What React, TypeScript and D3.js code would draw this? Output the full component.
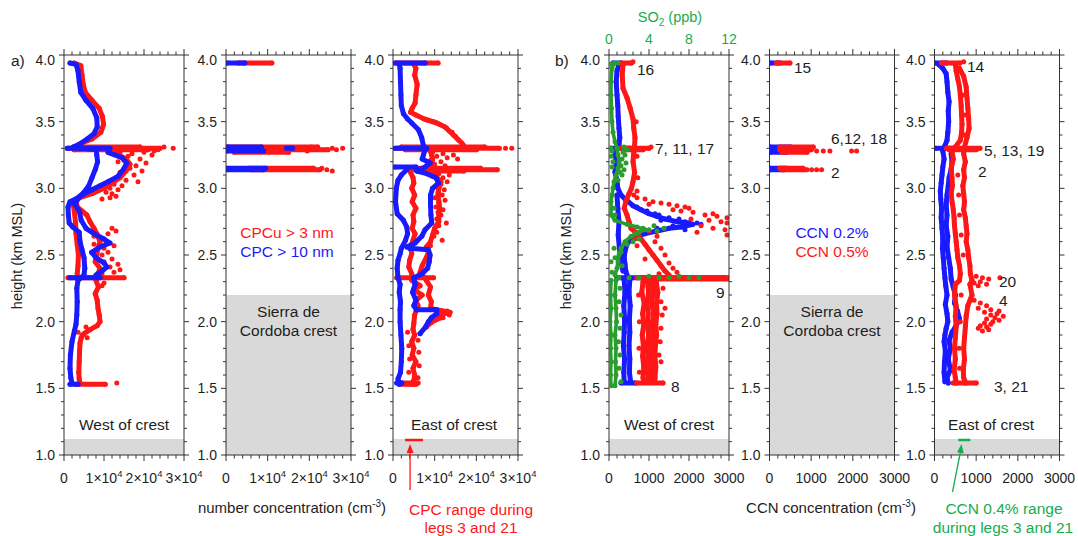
import React from 'react';
import * as d3 from 'd3';

type Pt = [number, number]; // [height km MSL, value]

const FONT = 'Liberation Sans, Arial, Helvetica, sans-serif';
const RED = '#ff1717';
const BLUE = '#1a1aff';
const GREEN_DOT = '#2a9d2f';
const GREEN_TEXT = '#16ad4d';
const GREY = '#d9d9d9';
const INK = '#1e1e1e';

// ---------- axis ticks ----------
const heightTicks = [1.0, 1.5, 2.0, 2.5, 3.0, 3.5, 4.0];
const cpcTicks = [0, 1e4, 2e4, 3e4];
const ccnTicks = [0, 1000, 2000, 3000];
const so2Ticks = [0, 4, 8, 12];

// ---------- a) West of crest: CPC > 10 nm (blue) ----------
const westCpcMain: Pt[] = [
  [3.94, 1500], [3.93, 3000], [3.88, 3500], [3.8, 3800], [3.72, 4200], [3.66, 5500], [3.6, 7200],
  [3.53, 8200], [3.46, 8300], [3.41, 7500], [3.37, 5800], [3.33, 3800], [3.31, 2300], [3.29, 8000],
  [3.25, 8200], [3.2, 8400], [3.14, 7800], [3.08, 7000], [3.02, 6200], [2.97, 5000], [2.93, 3500],
  [2.9, 1500], [2.86, 1000], [2.8, 1100], [2.74, 1300], [2.71, 2200], [2.67, 3800], [2.6, 4000],
  [2.54, 4500], [2.48, 5000], [2.4, 5200], [2.35, 5000], [2.31, 3500], [2.25, 3200], [2.15, 3300],
  [2.05, 3200], [1.98, 3000], [1.93, 2600], [1.85, 2000], [1.75, 1600], [1.65, 1500], [1.58, 1700], [1.54, 2000],
];
const westCpcSecond: Pt[] = [
  [3.27, 11000], [3.23, 14500], [3.19, 15700], [3.14, 14800], [3.09, 13500], [3.05, 11000], [3.02, 9000],
  [2.99, 7000], [2.96, 5000], [2.92, 3500], [2.88, 2700], [2.83, 3800], [2.76, 4300], [2.7, 5500],
  [2.66, 7500], [2.62, 10000], [2.59, 11500], [2.56, 9000], [2.52, 6900], [2.48, 8000], [2.44, 10000],
  [2.41, 10700], [2.38, 9500], [2.35, 8000],
];
const westCpcLegs: Pt[][] = [
  [[3.3, 800], [3.3, 11500]],
  [[2.33, 1500], [2.33, 9000]],
  [[1.53, 1500], [1.53, 3500]],
];

// ---------- a) West of crest: CPCu > 3 nm (red) ----------
const westCpcuUpper: Pt[] = [
  [3.94, 2500], [3.92, 4200], [3.85, 4500], [3.78, 4800], [3.72, 5300], [3.66, 7000], [3.6, 8800],
  [3.54, 9600], [3.48, 9900], [3.42, 9200], [3.37, 7000], [3.34, 4500], [3.31, 3000],
];
const westCpcuMiddle: Pt[] = [
  [3.27, 12500], [3.22, 15500], [3.18, 16500], [3.13, 15500], [3.08, 14000], [3.04, 12000], [3.0, 10000],
  [2.96, 7000], [2.92, 3000], [2.86, 3300], [2.8, 5700], [2.75, 6500], [2.7, 7500], [2.66, 8200],
  [2.6, 9000], [2.55, 8500], [2.5, 8200], [2.45, 7800], [2.4, 9000], [2.36, 8500],
];
const westCpcuLeft: Pt[] = [
  [2.9, 2200], [2.82, 2600], [2.74, 2900], [2.66, 3000], [2.58, 3300], [2.5, 3600], [2.42, 3500], [2.36, 3300],
];
const westCpcuLower: Pt[] = [
  [2.31, 8000], [2.26, 8600], [2.21, 7800], [2.16, 8300], [2.1, 8500], [2.05, 8800], [2.0, 9000],
  [1.97, 8300], [1.94, 6500], [1.91, 5000], [1.88, 4300], [1.84, 4000], [1.78, 3900], [1.7, 3800],
  [1.62, 3700], [1.57, 3800], [1.54, 4000],
];
const westCpcuLegs: Pt[][] = [
  [[3.31, 3000], [3.31, 19000]],
  [[3.3, 1000], [3.3, 24000]],
  [[3.29, 2500], [3.29, 21000]],
  [[2.33, 1000], [2.33, 15000]],
  [[1.53, 3000], [1.53, 10300]],
];
const westCpcuDots: Pt[] = [
  [3.3, 27300], [3.31, 25000], [3.29, 23500], [3.28, 22500], [3.27, 14000], [3.26, 17000], [3.27, 20000],
  [3.25, 22000], [3.24, 16000], [3.22, 19000], [3.21, 15000], [3.2, 13500], [3.19, 20500], [3.17, 18000],
  [3.15, 16500], [3.13, 19500], [3.12, 14000], [3.1, 17500], [3.08, 13000], [3.06, 15500], [3.05, 18500],
  [3.03, 12500], [3.02, 14500], [3.0, 11500], [2.99, 13500], [2.97, 10500], [2.96, 12000], [2.94, 13000],
  [2.92, 9500], [2.93, 11500], [2.7, 12000], [2.68, 13000], [2.66, 11000], [2.62, 9000], [2.6, 10500],
  [2.57, 12500], [2.55, 10000], [2.52, 11000], [2.5, 9500], [2.47, 12000], [2.45, 10000], [2.43, 13500],
  [2.41, 11500], [2.39, 14000], [2.37, 12500], [2.36, 9500], [2.64, 7500], [2.58, 7500], [2.46, 8500],
  [2.29, 10000], [2.27, 9500], [1.96, 5500], [1.9, 4500], [1.88, 5800], [1.92, 3500], [1.54, 13200],
];

// ---------- a) Sierra de Cordoba crest ----------
const crestCpcuLegs: Pt[][] = [
  [[3.94, 3000], [3.94, 11000]],
  [[3.31, 500], [3.31, 22000]],
  [[3.29, 800], [3.29, 24500]],
  [[3.27, 2000], [3.27, 15000]],
  [[3.15, 5500], [3.15, 21000]],
  [[3.14, 6000], [3.14, 22500]],
];
const crestCpcuDots: Pt[] = [
  [3.3, 25500], [3.3, 28000], [3.29, 26500], [3.13, 25500], [3.14, 24200], [3.15, 23000], [3.28, 19500], [3.31, 20500],
];
const crestCpcLegs: Pt[][] = [
  [[3.94, 300], [3.94, 4500]],
  [[3.31, 300], [3.31, 8500]],
  [[3.28, 300], [3.28, 9000]],
  [[3.3, 14500], [3.3, 16000]],
  [[3.15, 300], [3.15, 9500]],
  [[3.14, 400], [3.14, 9000]],
];

// ---------- a) East of crest: CPC > 10 nm (blue) ----------
const eastCpcUpper: Pt[] = [
  [3.93, 1500], [3.9, 1700], [3.8, 1800], [3.7, 1900], [3.62, 2000], [3.56, 2500], [3.52, 3500], [3.49, 4500],
  [3.44, 6100], [3.38, 6900], [3.32, 7300], [3.29, 7700], [3.25, 7300], [3.22, 7000], [3.19, 8900],
  [3.16, 7700], [3.13, 5700], [3.11, 8100], [3.08, 10300], [3.04, 10900], [3.0, 9500], [2.95, 9000],
  [2.88, 9000], [2.8, 9100], [2.74, 9300], [2.69, 7700], [2.64, 6900], [2.59, 5300], [2.56, 3300],
];
const eastCpcMiddle: Pt[] = [
  [2.55, 4000], [2.54, 8500], [2.5, 8900], [2.45, 8700], [2.4, 8300], [2.36, 7000], [2.33, 5000],
  [2.28, 5300], [2.22, 4700], [2.16, 5500], [2.12, 5000], [2.09, 5600], [2.09, 10500], [2.06, 10500],
  [2.03, 9200], [2.0, 8500], [1.96, 7800], [1.91, 6500],
];
const eastCpcLeft: Pt[] = [
  [3.14, 3300], [3.1, 2000], [3.06, 1200], [3.0, 800], [2.9, 600], [2.81, 1000], [2.76, 2500], [2.71, 3300],
  [2.66, 3500], [2.61, 3000], [2.55, 2000], [2.51, 1700], [2.46, 1200], [2.4, 1000], [2.33, 1200],
  [2.28, 1700], [2.22, 1500], [2.15, 1800], [2.09, 1700], [2.0, 1700], [1.9, 1900], [1.8, 2100],
  [1.7, 2000], [1.62, 1800], [1.57, 1200], [1.53, 1500],
];
const eastCpcLegs: Pt[][] = [
  [[3.94, 500], [3.94, 7700]],
  [[3.3, 500], [3.3, 8100]],
  [[3.16, 500], [3.16, 5500]],
  [[1.54, 900], [1.54, 2100]],
];

// ---------- a) East of crest: CPCu > 3 nm (red) ----------
const eastCpcuUpper: Pt[] = [
  [3.93, 5000], [3.9, 5500], [3.85, 5200], [3.78, 5800], [3.7, 5500], [3.64, 5300], [3.6, 4600], [3.57, 4200],
  [3.55, 5500], [3.52, 7500], [3.49, 10500], [3.46, 12500], [3.43, 13500], [3.4, 14500], [3.37, 15500],
  [3.34, 16500], [3.32, 17000],
];
const eastCpcuRight: Pt[] = [
  [3.28, 9000], [3.22, 9500], [3.16, 9200], [3.1, 10000], [3.05, 11500], [3.0, 11000], [2.95, 10800],
  [2.9, 11000], [2.85, 11200], [2.8, 11000], [2.75, 11000], [2.7, 10000], [2.65, 9500], [2.6, 9000],
  [2.56, 8000], [2.52, 8500], [2.48, 8000], [2.42, 7000], [2.37, 6500], [2.31, 8000], [2.26, 9000],
  [2.2, 8500], [2.15, 9200], [2.1, 9000], [2.08, 12000], [2.07, 13700], [2.05, 11000], [2.03, 11500],
  [2.01, 10000], [1.99, 9000], [1.96, 8000],
];
const eastCpcuLeft: Pt[] = [
  [3.12, 4200], [3.08, 4800], [3.04, 5000], [3.0, 4500], [2.95, 5200], [2.9, 4600], [2.85, 5500], [2.8, 4800],
  [2.75, 5000], [2.7, 4600], [2.66, 5300], [2.61, 4800], [2.56, 4200], [2.51, 4500], [2.46, 4000],
  [2.41, 3800], [2.36, 4500], [2.31, 4500], [2.27, 6500], [2.24, 5000], [2.2, 7000], [2.16, 5500],
  [2.12, 6000], [2.05, 5200], [1.99, 5000], [1.94, 4800], [1.9, 5200], [1.85, 4500], [1.8, 5000],
  [1.75, 4600], [1.7, 5500], [1.65, 4800], [1.6, 5200], [1.56, 5000], [1.53, 4500],
];
const eastCpcuLegs: Pt[][] = [
  [[3.94, 1000], [3.94, 10800]],
  [[3.31, 2000], [3.31, 22000]],
  [[3.3, 1000], [3.3, 25500]],
  [[3.29, 3000], [3.29, 20000]],
  [[3.15, 5000], [3.15, 21000]],
  [[3.14, 4000], [3.14, 25000]],
  [[3.13, 6000], [3.13, 17000]],
  [[2.33, 900], [2.33, 9700]],
  [[1.54, 1700], [1.54, 6000]],
  [[1.53, 2000], [1.53, 5500]],
];
const eastCpcuDots: Pt[] = [
  [3.3, 27000], [3.3, 28500], [3.51, 8500], [3.5, 9800], [3.48, 11200], [3.45, 12900], [3.42, 14200],
  [3.39, 15000], [3.36, 15800], [3.27, 9500], [3.26, 12000], [3.25, 14500], [3.24, 10500], [3.23, 13000],
  [3.22, 15500], [3.21, 9000], [3.2, 11500], [3.18, 10000], [3.17, 12500], [3.12, 9000], [3.11, 11000],
  [3.1, 13500], [3.09, 9500], [3.08, 12000], [3.06, 10800], [3.05, 13000], [3.03, 11500], [3.01, 10200],
  [2.99, 12300], [2.97, 10800], [2.95, 11800], [2.93, 10000], [2.91, 12500], [2.89, 11000], [2.86, 10300],
  [2.84, 12000], [2.82, 10800], [2.8, 11500], [2.77, 10500], [2.74, 12800], [2.72, 11000], [2.67, 10500],
  [2.64, 9800], [2.61, 11800], [2.57, 9000], [2.08, 13000], [2.05, 13500], [2.03, 12000], [2.06, 11800],
  [1.92, 3500], [1.86, 6000], [1.82, 3800], [1.77, 6200], [1.72, 4000], [1.67, 6300], [1.62, 3800], [1.58, 6000],
];
// CPC range during legs 3 and 21
const cpcLegRange: Pt[] = [[1.1125, 2900], [1.1125, 7200]];

// ---------- b) West of crest: CCN 0.2 % (blue) ----------
const westCcn02Main: Pt[] = [
  [3.93, 250], [3.88, 200], [3.8, 180], [3.7, 200], [3.62, 220], [3.54, 230], [3.45, 250], [3.38, 270],
  [3.33, 250], [3.31, 200], [3.27, 150], [3.2, 180], [3.12, 150], [3.06, 200], [3.0, 220], [2.95, 300],
  [2.92, 400], [2.9, 480], [2.87, 600], [2.84, 800], [2.81, 1000], [2.79, 1200], [2.77, 1400], [2.75, 1700],
  [2.74, 2000], [2.73, 2100], [2.71, 1800], [2.7, 1500], [2.68, 1200], [2.66, 900], [2.64, 700], [2.62, 550],
  [2.58, 450], [2.53, 400], [2.48, 380], [2.43, 400], [2.38, 420], [2.35, 450],
];
const westCcn02Left: Pt[] = [
  [2.95, 200], [2.85, 220], [2.75, 250], [2.65, 230], [2.55, 260], [2.45, 300], [2.38, 350],
];
const westCcn02Lower: Pt[][] = [
  [[2.31, 380], [2.22, 400], [2.12, 370], [2.02, 390], [1.92, 380], [1.82, 360], [1.72, 390], [1.62, 370], [1.55, 380]],
  [[2.31, 520], [2.22, 500], [2.12, 530], [2.02, 510], [1.92, 520], [1.82, 500], [1.72, 520], [1.62, 510], [1.55, 540]],
];
const westCcn02Legs: Pt[][] = [
  [[3.94, 100], [3.94, 300]],
  [[3.3, 50], [3.3, 525]],
  [[2.33, 200], [2.33, 2900]],
  [[1.54, 300], [1.54, 650]],
];
const westCcn02Dots: Pt[] = [
  [2.86, 700], [2.83, 950], [2.8, 1250], [2.78, 1500], [2.76, 1300], [2.75, 1900], [2.73, 2300], [2.72, 1600],
  [2.7, 1200], [2.69, 1900], [2.74, 2200], [2.77, 1750], [2.81, 1150],
];

// ---------- b) West of crest: CCN 0.5 % (red) ----------
const westCcn05Upper: Pt[] = [
  [3.93, 350], [3.85, 330], [3.75, 350], [3.68, 450], [3.6, 530], [3.52, 600], [3.45, 620], [3.38, 650],
  [3.32, 640], [3.3, 600], [3.27, 620], [3.2, 600], [3.12, 640], [3.05, 600], [3.0, 560], [2.96, 500],
  [2.9, 420], [2.85, 380], [2.8, 450], [2.75, 500], [2.7, 550], [2.66, 700], [2.62, 800], [2.58, 900],
  [2.54, 1000], [2.5, 1100], [2.46, 1200], [2.42, 1300], [2.38, 1400], [2.35, 1500],
];
const westCcn05Lower: Pt[][] = [
  [[2.3, 850], [2.22, 820], [2.14, 880], [2.06, 840], [1.98, 870], [1.9, 830], [1.82, 860], [1.74, 840], [1.66, 870], [1.58, 850], [1.55, 880]],
  [[2.3, 960], [2.22, 990], [2.14, 950], [2.06, 980], [1.98, 960], [1.9, 990], [1.82, 950], [1.74, 970], [1.66, 950], [1.58, 980], [1.55, 960]],
  [[2.3, 1080], [2.22, 1100], [2.14, 1070], [2.06, 1110], [1.98, 1080], [1.9, 1100], [1.82, 1060], [1.74, 1090], [1.66, 1060], [1.58, 1080], [1.55, 1060]],
  [[2.3, 1180], [2.22, 1220], [2.14, 1190], [2.06, 1200], [1.98, 1170], [1.9, 1190], [1.82, 1160], [1.74, 1150], [1.66, 1170], [1.58, 1150], [1.55, 1140]],
];
const westCcn05Legs: Pt[][] = [
  [[3.94, 300], [3.94, 560]],
  [[3.3, 300], [3.3, 1000]],
  [[3.29, 400], [3.29, 850]],
  [[2.33, 700], [2.33, 3000]],
  [[2.32, 1200], [2.32, 3000]],
  [[1.54, 700], [1.54, 1350]],
];
const westCcn05Dots: Pt[] = [
  [3.95, 600], [3.31, 1050], [2.93, 700], [2.92, 900], [2.9, 1100], [2.89, 1300], [2.88, 1500], [2.87, 1700],
  [2.86, 1900], [2.85, 2000], [2.83, 1800], [2.82, 2100], [2.8, 2400], [2.79, 2700], [2.78, 2950], [2.81, 2600],
  [2.76, 2500], [2.75, 2800], [2.74, 2950], [2.72, 2300], [2.7, 2600], [2.69, 2900], [2.67, 2200], [2.65, 2950],
  [2.88, 1000], [2.84, 1600], [2.77, 2050], [2.6, 1150], [2.55, 1300], [2.5, 1400], [2.47, 900], [2.44, 1500],
  [2.4, 1600], [2.37, 1700], [2.68, 1000], [2.64, 1200], [2.62, 650], [2.57, 700], [2.25, 1350], [2.15, 1300],
  [2.05, 1330], [1.95, 1300], [1.85, 1280], [1.75, 1250], [2.2, 740], [2.0, 760], [1.8, 750], [2.36, 1250],
  [2.1, 1400], [1.7, 1300], [1.62, 760], [2.98, 700], [2.95, 620], [3.08, 720], [3.24, 700], [3.5, 680],
];

// ---------- b) West of crest: SO2 ppb (green) ----------
const westSo2Main: Pt[] = [
  [3.94, 0.5], [3.9, 0.3], [3.8, 0.2], [3.7, 0.2], [3.6, 0.25], [3.5, 0.3], [3.42, 0.4], [3.35, 0.6],
  [3.3, 0.8], [3.25, 0.9], [3.2, 1.0], [3.15, 0.9], [3.1, 0.7], [3.05, 0.5], [3.0, 0.4], [2.95, 0.3],
  [2.9, 0.2], [2.8, 0.2], [2.76, 0.6], [2.73, 1.8], [2.71, 2.8], [2.69, 3.6], [2.67, 3.0], [2.64, 2.2],
  [2.6, 1.6], [2.55, 1.2], [2.5, 1.0], [2.45, 0.9], [2.4, 0.8], [2.35, 0.6],
];
const westSo2Lower: Pt[][] = [
  [[2.31, 0.2], [2.2, 0.15], [2.1, 0.2], [2.0, 0.1], [1.9, 0.2], [1.8, 0.15], [1.7, 0.2], [1.6, 0.15], [1.52, 0.2]],
  [[2.31, 0.7], [2.2, 0.6], [2.1, 0.7], [2.0, 0.75], [1.9, 0.6], [1.8, 0.7], [1.7, 0.65], [1.6, 0.7], [1.52, 0.6]],
];
const westSo2Dots: Pt[] = [
  [3.94, 0.9], [3.93, 0.2], [3.31, 1.5], [3.29, 1.8], [3.27, 1.4], [3.25, 1.6], [3.22, 1.3], [3.19, 1.7],
  [3.17, 1.2], [3.14, 1.5], [3.12, 1.1], [3.1, 1.3], [3.28, 0.3], [3.24, 0.2], [3.2, 0.4], [3.16, 0.3],
  [3.3, 0.2], [3.06, 0.9], [2.72, 4.5], [2.7, 5.5], [2.68, 4.8], [2.7, 3.4], [2.69, 4.0], [2.66, 2.6],
  [2.62, 3.0], [2.6, 2.4], [2.58, 1.8], [2.52, 1.2], [2.48, 0.6], [2.42, 1.3], [2.37, 0.3], [2.45, 0.2],
  [2.55, 0.5], [2.33, 1.0], [2.33, 2.0], [2.33, 3.0], [2.34, 4.0], [2.33, 5.0], [2.33, 6.0], [2.34, 7.0],
  [2.33, 8.0], [2.33, 9.0], [2.25, 1.1], [2.15, 1.0], [2.05, 1.2], [1.95, 1.1], [1.85, 0.95], [1.75, 1.1],
  [1.65, 1.0], [1.55, 1.2], [2.8, 0.6], [2.85, 0.5],
];

// ---------- b) Sierra de Cordoba crest ----------
const crestCcn02Legs: Pt[][] = [
  [[3.94, 20], [3.94, 250]],
  [[3.31, 20], [3.31, 500]],
  [[3.29, 20], [3.29, 450]],
  [[3.27, 20], [3.27, 400]],
  [[3.15, 20], [3.15, 400]],
  [[3.14, 30], [3.14, 350]],
];
const crestCcn05Legs: Pt[][] = [
  [[3.94, 170], [3.94, 490]],
  [[3.31, 250], [3.31, 1050]],
  [[3.29, 250], [3.29, 1000]],
  [[3.27, 300], [3.27, 900]],
  [[3.15, 250], [3.15, 800]],
  [[3.14, 300], [3.14, 850]],
];
const crestCcn05Dots: Pt[] = [
  [3.28, 1130], [3.28, 1290], [3.28, 1450], [3.28, 1970], [3.28, 2090], [3.14, 900], [3.14, 1010],
  [3.14, 1130], [3.14, 1250],
];

// ---------- b) East of crest: CCN 0.2 % (blue) ----------
const eastCcn02Main: Pt[] = [
  [3.93, 100], [3.9, 200], [3.86, 280], [3.8, 300], [3.72, 320], [3.65, 350], [3.58, 330], [3.5, 340],
  [3.42, 320], [3.36, 300], [3.32, 250], [3.28, 200], [3.22, 230], [3.16, 200], [3.1, 180], [3.04, 160],
  [2.98, 140], [2.92, 150], [2.85, 170], [2.78, 160], [2.7, 180], [2.62, 200], [2.55, 190], [2.48, 210],
  [2.4, 230], [2.33, 250], [2.27, 270], [2.2, 300], [2.13, 260], [2.06, 300], [2.0, 320], [1.95, 280],
  [1.9, 250], [1.85, 230], [1.78, 260], [1.7, 240], [1.62, 230], [1.55, 250],
];
const eastCcn02Second: Pt[] = [
  [3.26, 400], [3.2, 420], [3.14, 400], [3.08, 350], [3.02, 330], [2.95, 300], [2.88, 280], [2.8, 300],
  [2.72, 280], [2.64, 320], [2.56, 300], [2.48, 340], [2.4, 380], [2.32, 400], [2.26, 450], [2.2, 500],
  [2.14, 480], [2.08, 550], [2.02, 600], [1.96, 500], [1.92, 420], [1.86, 350], [1.8, 380], [1.72, 330],
  [1.64, 380], [1.58, 300], [1.54, 330],
];
const eastCcn02Legs: Pt[][] = [
  [[3.94, 12], [3.94, 290]],
  [[3.3, 30], [3.3, 450]],
];

// ---------- b) East of crest: CCN 0.5 % (red) ----------
const eastCcn05Left: Pt[] = [
  [3.93, 500], [3.88, 520], [3.82, 560], [3.76, 600], [3.7, 620], [3.62, 640], [3.55, 650], [3.48, 660],
  [3.42, 650], [3.36, 620], [3.31, 500], [3.28, 420], [3.22, 450], [3.15, 400], [3.08, 420], [3.02, 430],
  [2.96, 400], [2.9, 420], [2.84, 450], [2.78, 470], [2.72, 480], [2.66, 500], [2.6, 520], [2.54, 540],
  [2.48, 560], [2.42, 600], [2.36, 620], [2.31, 600], [2.28, 500], [2.2, 480], [2.12, 520], [2.04, 500],
  [1.96, 520], [1.88, 500], [1.8, 480], [1.72, 500], [1.64, 470], [1.58, 500], [1.54, 520],
];
const eastCcn05Right: Pt[] = [
  [3.9, 600], [3.84, 700], [3.76, 760], [3.68, 780], [3.6, 800], [3.52, 820], [3.45, 830], [3.38, 780],
  [3.31, 720], [3.26, 700], [3.2, 740], [3.14, 700], [3.08, 720], [3.02, 680], [2.96, 700], [2.9, 720],
  [2.84, 700], [2.78, 740], [2.72, 760], [2.66, 780], [2.6, 760], [2.54, 800], [2.48, 820], [2.42, 850],
  [2.36, 860], [2.31, 900], [2.28, 850], [2.2, 900], [2.12, 800], [2.04, 760], [1.96, 740], [1.88, 720],
  [1.8, 700], [1.72, 720], [1.64, 690], [1.58, 700], [1.54, 750],
];
const eastCcn05Legs: Pt[][] = [
  [[3.94, 170], [3.94, 612]],
  [[3.3, 290], [3.3, 1090]],
  [[3.29, 350], [3.29, 1000]],
  [[1.54, 450], [1.54, 1000]],
];
const eastCcn05Dots: Pt[] = [
  [3.95, 700], [2.34, 1000], [2.33, 1150], [2.32, 1300], [2.3, 1100], [2.29, 950], [2.28, 1250], [2.27, 1050],
  [2.33, 1570], [2.16, 950], [2.14, 1100], [2.12, 1250], [2.1, 1050], [2.09, 1350], [2.07, 1200], [2.06, 1500],
  [2.05, 1350], [2.04, 1650], [2.03, 1450], [2.02, 1250], [2.01, 1550], [2.0, 1400], [1.99, 1200], [1.98, 1350],
  [1.97, 1100], [1.96, 1250], [1.95, 1050], [1.94, 1300], [1.93, 1150], [2.08, 1550],
  [3.7, 700], [3.55, 740], [3.4, 720], [3.1, 560], [2.95, 580], [2.8, 600], [2.65, 640], [2.5, 690],
  [2.2, 640], [2.0, 620], [1.8, 590], [1.65, 600],
];
// CCN 0.4 % range during legs 3 and 21
const ccnLegRange: Pt[] = [[1.1125, 570], [1.1125, 860]];

// ---------- layout ----------
const Y_TOP = 55;
const Y_BOTTOM = 455;

interface Layer {
  color: string;
  tracks: Pt[][];
  dots: Pt[];
}
interface PanelDef {
  left: number;
  right: number;
  max: number;
  crestTop: number;
  layers: Layer[];
  xTicks: number[];
  cpcLabels: boolean;
}

const panels: PanelDef[] = [
  {
    left: 64, right: 184, max: 3e4, crestTop: 1.12, xTicks: cpcTicks, cpcLabels: true,
    layers: [
      { color: RED, tracks: [westCpcuUpper, westCpcuMiddle, westCpcuLeft, westCpcuLower, ...westCpcuLegs], dots: westCpcuDots },
      { color: BLUE, tracks: [westCpcMain, westCpcSecond, ...westCpcLegs], dots: [] },
    ],
  },
  {
    left: 226, right: 351, max: 3e4, crestTop: 2.2, xTicks: cpcTicks, cpcLabels: true,
    layers: [
      { color: RED, tracks: crestCpcuLegs, dots: crestCpcuDots },
      { color: BLUE, tracks: crestCpcLegs, dots: [] },
    ],
  },
  {
    left: 393, right: 518, max: 3e4, crestTop: 1.12, xTicks: cpcTicks, cpcLabels: true,
    layers: [
      { color: RED, tracks: [eastCpcuUpper, eastCpcuRight, eastCpcuLeft, ...eastCpcuLegs], dots: eastCpcuDots },
      { color: BLUE, tracks: [eastCpcUpper, eastCpcMiddle, eastCpcLeft, ...eastCpcLegs], dots: [] },
    ],
  },
  {
    left: 609, right: 729, max: 3000, crestTop: 1.12, xTicks: ccnTicks, cpcLabels: false,
    layers: [
      { color: BLUE, tracks: [westCcn02Main, westCcn02Left, ...westCcn02Lower, ...westCcn02Legs], dots: westCcn02Dots },
      { color: RED, tracks: [westCcn05Upper, ...westCcn05Lower, ...westCcn05Legs], dots: westCcn05Dots },
    ],
  },
  {
    left: 769.5, right: 894.5, max: 3000, crestTop: 2.2, xTicks: ccnTicks, cpcLabels: false,
    layers: [
      { color: BLUE, tracks: crestCcn02Legs, dots: [] },
      { color: RED, tracks: crestCcn05Legs, dots: crestCcn05Dots },
    ],
  },
  {
    left: 934.5, right: 1059.5, max: 3000, crestTop: 1.12, xTicks: ccnTicks, cpcLabels: false,
    layers: [
      { color: BLUE, tracks: [eastCcn02Main, eastCcn02Second, ...eastCcn02Legs], dots: [] },
      { color: RED, tracks: [eastCcn05Left, eastCcn05Right, ...eastCcn05Legs], dots: eastCcn05Dots },
    ],
  },
];

const yScale = d3.scaleLinear().domain([1, 4]).range([Y_BOTTOM, Y_TOP]);
const TRACK_W = 5;
const DOT_R = 2.5;

function DataLayer({ layer, x, id }: { layer: Layer; x: d3.ScaleLinear<number, number>; id: string }) {
  const line = d3.line<Pt>().x((d) => x(d[1])).y((d) => yScale(d[0]));
  return (
    <g>
      {layer.tracks.map((t, i) => (
        <path key={`${id}t${i}`} d={line(t) || ''} fill="none" stroke={layer.color} strokeWidth={TRACK_W}
          strokeLinecap="round" strokeLinejoin="round" />
      ))}
      {layer.tracks.flat().concat(layer.dots).map((d, i) => (
        <circle key={`${id}d${i}`} cx={x(d[1])} cy={yScale(d[0])} r={DOT_R} fill={layer.color} />
      ))}
    </g>
  );
}

function Panel({ p, idx }: { p: PanelDef; idx: number }) {
  const x = d3.scaleLinear().domain([0, p.max]).range([p.left, p.right]);
  const minorY = d3.range(10, 41).map((v) => v / 10);
  const minorX = d3.range(0, 16).map((v) => (v * p.max) / 15);
  const clipId = `clip${idx}`;
  const tickColor = '#333';
  return (
    <g>
      <defs>
        <clipPath id={clipId}>
          <rect x={p.left} y={Y_TOP} width={p.right - p.left} height={Y_BOTTOM - Y_TOP} />
        </clipPath>
      </defs>
      <rect x={p.left} y={yScale(p.crestTop)} width={p.right - p.left} height={Y_BOTTOM - yScale(p.crestTop)} fill={GREY} />
      <g clipPath={`url(#${clipId})`}>
        {p.layers.map((l, i) => (
          <DataLayer key={i} layer={l} x={x} id={`${idx}-${i}`} />
        ))}
      </g>
      {/* frame */}
      <rect x={p.left} y={Y_TOP} width={p.right - p.left} height={Y_BOTTOM - Y_TOP} fill="none" stroke={tickColor} strokeWidth={1} />
      {/* height ticks on both sides */}
      {minorY.map((t) => {
        const major = Math.abs(t * 2 - Math.round(t * 2)) < 1e-6;
        const len = major ? 5 : 3;
        const yy = yScale(t);
        return (
          <g key={`y${t}`} stroke={tickColor} strokeWidth={1}>
            <line x1={p.left - len} x2={p.left} y1={yy} y2={yy} />
            <line x1={p.right} x2={p.right + len} y1={yy} y2={yy} />
          </g>
        );
      })}
      {/* concentration ticks top and bottom */}
      {minorX.map((t, i) => {
        const major = i % 5 === 0;
        const len = major ? 6 : 3.5;
        const xx = x(t);
        return (
          <g key={`x${i}`} stroke={tickColor} strokeWidth={1}>
            <line x1={xx} x2={xx} y1={Y_BOTTOM} y2={Y_BOTTOM + len} />
            <line x1={xx} x2={xx} y1={Y_TOP - len} y2={Y_TOP} />
          </g>
        );
      })}
      {/* height labels */}
      {heightTicks.map((t) => (
        <text key={`yl${t}`} x={p.left - 9} y={yScale(t) + (t === 4 ? 10 : 5)} textAnchor="end" fontSize={14} fill={INK}>
          {t.toFixed(1)}
        </text>
      ))}
      {/* concentration labels */}
      {p.xTicks.map((t) => (
        <text key={`xl${t}`} x={x(t)} y={483} textAnchor="middle" fontSize={14} fill={INK}>
          {p.cpcLabels && t > 0 ? (
            <>
              {t / 1e4}×10<tspan dy={-6} fontSize={9.5}>4</tspan>
            </>
          ) : (
            String(t)
          )}
        </text>
      ))}
    </g>
  );
}

export default function App() {
  const so2 = d3.scaleLinear().domain([0, 12]).range([609, 729]);
  const eastCpc = d3.scaleLinear().domain([0, 3e4]).range([393, 518]);
  const eastCcn = d3.scaleLinear().domain([0, 3000]).range([934.5, 1059.5]);
  const so2Line = d3.line<Pt>().x((d) => so2(d[1])).y((d) => yScale(d[0]));
  const rangeLineCpc = d3.line<Pt>().x((d) => eastCpc(d[1])).y((d) => yScale(d[0]));
  const rangeLineCcn = d3.line<Pt>().x((d) => eastCcn(d[1])).y((d) => yScale(d[0]));
  const ann = 15.5;

  const cpcArrowX = eastCpc(4100);
  const ccnArrowX = eastCcn(650);
  const rangeY = yScale(1.1125);

  return (
    <svg width={1078} height={536} viewBox="0 0 1078 536" style={{ position: 'absolute', left: 0, top: 0, background: '#fff' }}
      fontFamily={FONT}>
      <rect width={1078} height={536} fill="#fff" />
      {panels.map((p, i) => (
        <Panel key={i} p={p} idx={i} />
      ))}

      {/* SO2 on the west CCN panel, drawn above the CCN points */}
      <g clipPath="url(#clip3)">
        {westSo2Lower.concat([westSo2Main]).map((t, i) => (
          <path key={`so2t${i}`} d={so2Line(t) || ''} fill="none" stroke={GREEN_DOT} strokeWidth={3.6}
            strokeLinecap="round" strokeLinejoin="round" />
        ))}
        {westSo2Main.concat(...westSo2Lower, westSo2Dots).map((d, i) => (
          <circle key={`so2d${i}`} cx={so2(d[1])} cy={yScale(d[0])} r={DOT_R} fill={GREEN_DOT} />
        ))}
      </g>
      {/* SO2 top axis labels */}
      {so2Ticks.map((t) => (
        <text key={`so2l${t}`} x={so2(t)} y={44} textAnchor="middle" fontSize={14} fill={GREEN_TEXT}>
          {t}
        </text>
      ))}
      <text x={670} y={22} textAnchor="middle" fontSize={14.5} fill={GREEN_TEXT}>
        SO<tspan dy={4} fontSize={10}>2</tspan>
        <tspan dy={-4}> (ppb)</tspan>
      </text>

      {/* panel letters and axis titles */}
      <text x={11} y={66} fontSize={ann} fill={INK}>a)</text>
      <text x={555} y={66} fontSize={ann} fill={INK}>b)</text>
      <text transform="translate(22,256) rotate(-90)" textAnchor="middle" fontSize={14.5} fill={INK}>height (km MSL)</text>
      <text transform="translate(571,256) rotate(-90)" textAnchor="middle" fontSize={14.5} fill={INK}>height (km MSL)</text>
      <text x={292} y={513} textAnchor="middle" fontSize={15} fill={INK}>
        number concentration (cm<tspan dy={-6} fontSize={10}>-3</tspan>
        <tspan dy={6}>)</tspan>
      </text>
      <text x={831} y={513} textAnchor="middle" fontSize={15} fill={INK}>
        CCN concentration (cm<tspan dy={-6} fontSize={10}>-3</tspan>
        <tspan dy={6}>)</tspan>
      </text>

      {/* region labels */}
      <text x={124} y={429.5} textAnchor="middle" fontSize={ann} fill={INK}>West of crest</text>
      <text x={669} y={429.5} textAnchor="middle" fontSize={ann} fill={INK}>West of crest</text>
      <text x={454} y={429.5} textAnchor="middle" fontSize={ann} fill={INK}>East of crest</text>
      <text x={991} y={429.5} textAnchor="middle" fontSize={ann} fill={INK}>East of crest</text>
      {[288.5, 832].map((cx) => (
        <g key={`crest${cx}`}>
          <text x={cx} y={316.5} textAnchor="middle" fontSize={ann} fill={INK}>Sierra de</text>
          <text x={cx} y={336} textAnchor="middle" fontSize={ann} fill={INK}>Cordoba crest</text>
        </g>
      ))}

      {/* legends */}
      <text x={287} y={237.5} textAnchor="middle" fontSize={ann} fill={RED}>CPCu &gt; 3 nm</text>
      <text x={287} y={257} textAnchor="middle" fontSize={ann} fill={BLUE}>CPC &gt; 10 nm</text>
      <text x={832} y={237.5} textAnchor="middle" fontSize={ann} fill={BLUE}>CCN 0.2%</text>
      <text x={832} y={257} textAnchor="middle" fontSize={ann} fill={RED}>CCN 0.5%</text>

      {/* leg numbers */}
      <g fontSize={ann} fill={INK}>
        <text x={637} y={75}>16</text>
        <text x={655} y={153.5}>7, 11, 17</text>
        <text x={716} y={298}>9</text>
        <text x={671} y={392}>8</text>
        <text x={794} y={73}>15</text>
        <text x={831} y={144}>6,12, 18</text>
        <text x={831} y={178}>2</text>
        <text x={967} y={72}>14</text>
        <text x={984} y={156}>5, 13, 19</text>
        <text x={978} y={177}>2</text>
        <text x={999} y={287}>20</text>
        <text x={999} y={306}>4</text>
        <text x={994} y={392}>3, 21</text>
      </g>

      {/* ranges during legs 3 and 21 */}
      <path d={rangeLineCpc(cpcLegRange) || ''} stroke={RED} strokeWidth={2.5} fill="none" />
      <path d={rangeLineCcn(ccnLegRange) || ''} stroke={GREEN_TEXT} strokeWidth={2.5} fill="none" />
      <line x1={cpcArrowX} y1={490} x2={cpcArrowX} y2={rangeY + 12} stroke={RED} strokeWidth={1.3} />
      <path d={`M${cpcArrowX},${rangeY + 4} L${cpcArrowX - 3.5},${rangeY + 13} L${cpcArrowX + 3.5},${rangeY + 13} Z`} fill={RED} />
      <line x1={952.5} y1={492} x2={ccnArrowX - 1.2} y2={rangeY + 12} stroke={GREEN_TEXT} strokeWidth={1.3} />
      <path d={`M${ccnArrowX},${rangeY + 4} L${ccnArrowX - 4.6},${rangeY + 12.3} L${ccnArrowX + 2.2},${rangeY + 13.5} Z`} fill={GREEN_TEXT} />
      <text x={471} y={514.5} textAnchor="middle" fontSize={ann} fill={RED}>CPC range during</text>
      <text x={471} y={532.5} textAnchor="middle" fontSize={ann} fill={RED}>legs 3 and 21</text>
      <text x={1004} y={513.5} textAnchor="middle" fontSize={ann} fill={GREEN_TEXT}>CCN 0.4% range</text>
      <text x={1003} y={532.5} textAnchor="middle" fontSize={ann} fill={GREEN_TEXT}>during legs 3 and 21</text>
    </svg>
  );
}
